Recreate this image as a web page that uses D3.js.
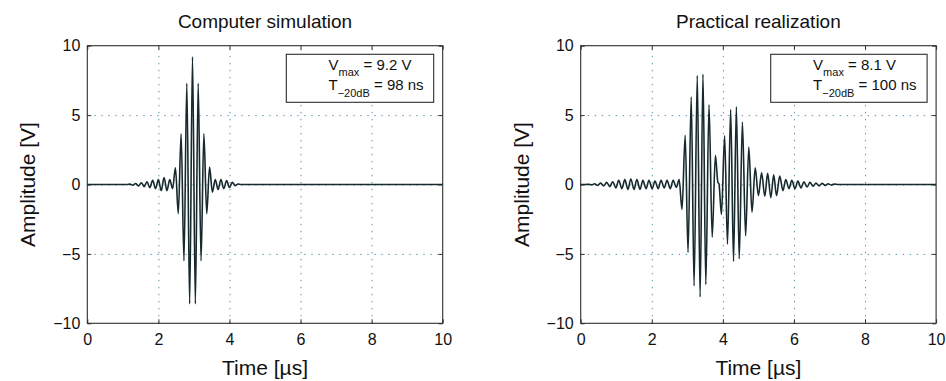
<!DOCTYPE html>
<html>
<head>
<meta charset="utf-8">
<script src="https://cdn.jsdelivr.net/npm/d3@7"></script>
<style>
  body { margin: 0; background: #fff; }
  svg { display: block; font-family: "Liberation Sans", Arial, Helvetica, sans-serif; }
  .grid line { stroke: #5b93a8; stroke-width: 1; stroke-dasharray: 1.4 5.6; }
  .grid path { display: none; }
  .axis path { display: none; }
  .axis line { stroke: #2e2e2e; }
  .axis text { font-size: 16px; fill: #111; }
</style>
</head>
<body>
<div id="chart"></div>
<script>
// chart data
const titles = ["Computer simulation", "Practical realization"];
const xTicks = [0, 2, 4, 6, 8, 10];
const yTicks = [-10, -5, 0, 5, 10];
const vmaxText = ["9.2 V", "8.1 V"];
const t20Text = ["98 ns", "100 ns"];

// simulated burst: extrema (time in µs, amplitude in V)
const simTime = [0, 1.12, 1.20, 1.28, 1.36, 1.44, 1.52, 1.60, 1.68, 1.76, 1.84, 1.92, 2.00, 2.08, 2.16, 2.24,
  2.32, 2.40, 2.48, 2.56, 2.64, 2.72, 2.80, 2.88, 2.96, 3.04, 3.12, 3.20, 3.28, 3.36, 3.44, 3.52,
  3.60, 3.68, 3.76, 3.84, 3.92, 4.00, 4.08, 4.16, 4.24, 4.32, 10];
const simVolt = [0, 0, 0.03, -0.05, 0.07, -0.1, 0.12, -0.15, 0.2, -0.22, 0.3, -0.3, 0.35, -0.45, 0.5, -0.45,
  0.35, -0.3, 1.2, -2.1, 3.65, -5.5, 7.3, -8.6, 9.2, -8.6, 7.3, -5.5, 3.65, -2.1, 1.25, -0.55,
  0.35, -0.35, 0.35, -0.3, 0.28, -0.22, 0.15, -0.08, 0.04, 0, 0];

// measured burst
const measTime = [0, 0.14, 0.22, 0.31, 0.39, 0.48, 0.56, 0.65, 0.73, 0.82, 0.90, 0.99, 1.07, 1.16, 1.24, 1.33,
  1.41, 1.50, 1.58, 1.67, 1.75, 1.84, 1.92, 2.01, 2.09, 2.18, 2.26, 2.35, 2.43, 2.52, 2.60, 2.69, 2.77,
  2.85, 2.94, 3.02, 3.11, 3.19, 3.28, 3.36, 3.44, 3.52, 3.61, 3.70, 3.79, 3.86, 3.89,
  3.96, 4.05, 4.13, 4.22, 4.30, 4.38, 4.46, 4.55, 4.64, 4.73, 4.82, 4.91, 5.00,
  5.09, 5.18, 5.26, 5.35, 5.43, 5.51, 5.60, 5.69, 5.77, 5.86, 5.94, 6.03, 6.11, 6.20, 6.28, 6.37,
  6.45, 6.54, 6.62, 6.71, 6.79, 6.88, 6.96, 7.05, 7.13, 7.25, 10];
const measVolt = [0, 0, 0.02, -0.03, 0.05, -0.06, 0.1, -0.1, 0.15, -0.15, 0.2, -0.25, 0.3, -0.3, 0.35, -0.35,
  0.4, -0.35, 0.35, -0.35, 0.3, -0.3, 0.3, -0.3, 0.25, -0.3, 0.3, -0.25, 0.3, -0.3, 0.3, -0.2, 0.35,
  -1.8, 3.55, -4.9, 6.3, -7.3, 7.85, -8.1, 7.95, -7.2, 5.75, -3.8, 2.1, 0.15, 0.05,
  -2.15, 3.5, -4.3, 5.4, -5.55, 5.6, -5.35, 4.5, -3.7, 2.7, -2.0, 1.2, -0.8,
  0.85, -0.85, 0.8, -0.95, 0.7, -0.8, 0.6, -0.45, 0.35, -0.3, 0.3, -0.3, 0.25, -0.25, 0.2, -0.18,
  0.15, -0.12, 0.1, -0.1, 0.08, -0.06, 0.05, -0.04, 0.03, 0, 0];

const width = 946, height = 381;
const svg = d3.select('#chart').append('svg')
    .attr('width', width)
    .attr('height', height);

const fmt = d => d < 0 ? '\u2212' + Math.abs(d) : String(d);

function panel(i, left, times, volts) {
    const top = 45.7, bottom = 323.3, w = 355.4;
    const x = d3.scaleLinear().domain([0, 10]).range([left, left + w]);
    const y = d3.scaleLinear().domain([-10, 10]).range([bottom, top]);
    const g = svg.append('g');

    // dotted grid
    g.append('g').classed('grid', true)
        .attr('transform', `translate(0,${bottom})`)
        .call(d3.axisBottom(x).tickValues(xTicks.slice(1, -1)).tickSize(-(bottom - top)).tickFormat(''));
    g.append('g').classed('grid', true)
        .attr('transform', `translate(${left},0)`)
        .call(d3.axisLeft(y).tickValues(yTicks.slice(1, -1)).tickSize(-w).tickFormat(''));

    // frame
    g.append('rect')
        .attr('x', left).attr('y', top)
        .attr('width', w).attr('height', bottom - top)
        .attr('fill', 'none').attr('stroke', '#2e2e2e').attr('stroke-width', 1.1);

    // ticks on all four sides, pointing in
    g.append('g').classed('axis', true)
        .attr('transform', `translate(0,${bottom})`)
        .call(d3.axisBottom(x).tickValues(xTicks).tickSize(-4).tickPadding(10).tickFormat(fmt));
    g.append('g').classed('axis', true)
        .attr('transform', `translate(0,${top})`)
        .call(d3.axisTop(x).tickValues(xTicks).tickSize(-4).tickFormat(''));
    g.append('g').classed('axis', true)
        .attr('transform', `translate(${left},0)`)
        .call(d3.axisLeft(y).tickValues(yTicks).tickSize(-4).tickPadding(7).tickFormat(fmt));
    g.append('g').classed('axis', true)
        .attr('transform', `translate(${left + w},0)`)
        .call(d3.axisRight(y).tickValues(yTicks).tickSize(-4).tickFormat(''));

    // waveform
    const line = d3.line()
        .x((d, k) => x(times[k]))
        .y(d => y(d))
        .curve(d3.curveMonotoneX);
    g.append('path')
        .datum(volts)
        .attr('d', line)
        .attr('fill', 'none')
        .attr('stroke', '#16292c')
        .attr('stroke-width', 1.6);

    // title and labels
    g.append('text')
        .attr('x', left + w / 2).attr('y', 28)
        .attr('text-anchor', 'middle')
        .style('font-size', '19px').attr('fill', '#111')
        .text(titles[i]);
    g.append('text')
        .attr('x', left + w / 2).attr('y', 375)
        .attr('text-anchor', 'middle')
        .style('font-size', '21px').attr('fill', '#111')
        .text('Time [\u00b5s]');
    g.append('text')
        .attr('transform', `translate(${left - 52},${(top + bottom) / 2}) rotate(-90)`)
        .attr('text-anchor', 'middle')
        .style('font-size', '21px').attr('fill', '#111')
        .text('Amplitude [V]');

    // annotation box
    const bx0 = left + 199, bx1 = left + w - 9;
    g.append('rect')
        .attr('x', i === 0 ? bx0 : bx0 - 9).attr('y', 54.3)
        .attr('width', (i === 0 ? bx1 - bx0 : bx1 - bx0 + 9)).attr('height', 48)
        .attr('fill', '#fff').attr('stroke', '#2e2e2e').attr('stroke-width', 1.1);
    const tx = left + (i === 0 ? 241.2 : 232.4);
    const t1 = g.append('text').attr('x', tx).attr('y', 69.5).style('font-size', '15px').attr('fill', '#111');
    t1.append('tspan').text('V');
    t1.append('tspan').attr('dy', 6).style('font-size', '11px').text('max');
    t1.append('tspan').attr('dy', -6).text(' = ' + vmaxText[i]);
    const t2 = g.append('text').attr('x', tx).attr('y', 89.5).style('font-size', '15px').attr('fill', '#111');
    t2.append('tspan').text('T');
    t2.append('tspan').attr('dy', 7).style('font-size', '11px').text('\u221220dB');
    t2.append('tspan').attr('dy', -7).text(' = ' + t20Text[i]);
}

panel(0, 87.3, simTime, simVolt);
panel(1, 580.7, measTime, measVolt);
</script>
</body>
</html>
